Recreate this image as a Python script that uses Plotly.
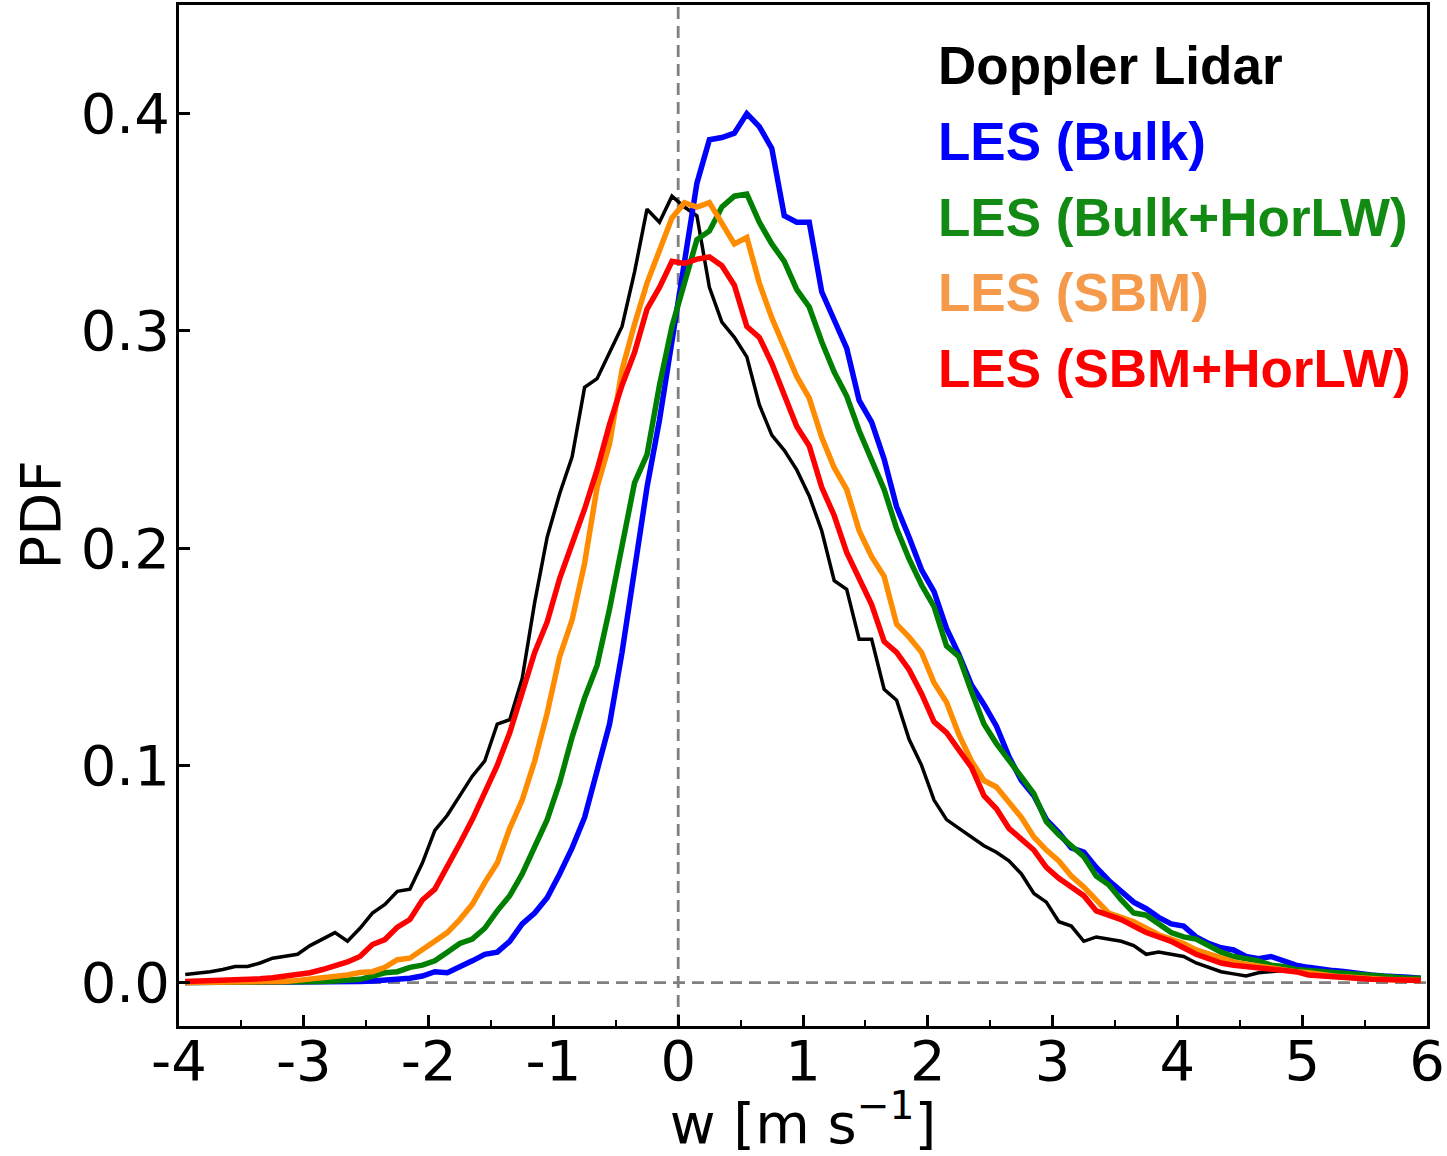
import numpy as np
import plotly.graph_objects as go

# bin centres of the w histogram (m s-1)
w_bins = np.round(np.arange(-3.95, 6.0, 0.1), 2)

pdf_lidar = [
    0.0037, 0.0042, 0.005, 0.006, 0.0074, 0.0074, 0.009, 0.0112, 0.012, 0.013,
    0.017, 0.020, 0.023, 0.019, 0.025, 0.032, 0.036, 0.042, 0.043, 0.055,
    0.070, 0.077, 0.086, 0.095, 0.102, 0.119, 0.121, 0.140, 0.175, 0.205,
    0.225, 0.242, 0.274, 0.278, 0.290, 0.302, 0.327, 0.356, 0.350, 0.362,
    0.357, 0.353, 0.320, 0.304, 0.297, 0.288, 0.266, 0.252, 0.245, 0.236,
    0.224, 0.208, 0.185, 0.181, 0.158, 0.158, 0.135, 0.130, 0.112, 0.100,
    0.084, 0.075, 0.071, 0.067, 0.063, 0.060, 0.056, 0.050, 0.041, 0.037,
    0.028, 0.026, 0.019, 0.021, 0.020, 0.019, 0.017, 0.013, 0.014, 0.013,
    0.012, 0.009, 0.007, 0.005, 0.004, 0.003, 0.0045, 0.005, 0.0055, 0.005,
    0.0045, 0.004, 0.0035, 0.003, 0.0025, 0.002, 0.0015, 0.0012, 0.001, 0.0008,
]

pdf_bulk = [
    0, 0, 0, 0, 0, 0, 0, 0, 0, 0,
    0.0001, 0.0002, 0.0003, 0.0004, 0.0005, 0.0007, 0.001, 0.0012, 0.002, 0.003,
    0.005, 0.0045, 0.007, 0.010, 0.013, 0.014, 0.019, 0.027, 0.032, 0.039,
    0.050, 0.062, 0.076, 0.097, 0.119, 0.152, 0.189, 0.228, 0.259, 0.295,
    0.331, 0.368, 0.388, 0.389, 0.391, 0.400, 0.394, 0.384, 0.353, 0.350,
    0.350, 0.318, 0.305, 0.292, 0.268, 0.258, 0.241, 0.219, 0.205, 0.190,
    0.180, 0.163, 0.151, 0.137, 0.128, 0.118, 0.104, 0.093, 0.086, 0.075,
    0.069, 0.062, 0.060, 0.053, 0.047, 0.042, 0.037, 0.034, 0.030, 0.027,
    0.026, 0.021, 0.018, 0.016, 0.015, 0.012, 0.011, 0.012, 0.010, 0.008,
    0.007, 0.006, 0.0055, 0.005, 0.004, 0.0035, 0.003, 0.003, 0.0025, 0.002,
]

pdf_bulk_horlw = [
    0, 0, 0, 0, 0, 0, 0, 0.0001, 0.0002, 0.0003,
    0.0004, 0.0005, 0.0007, 0.001, 0.0015, 0.003, 0.0045, 0.005, 0.007, 0.008,
    0.010, 0.014, 0.018, 0.020, 0.025, 0.033, 0.040, 0.050, 0.063, 0.075,
    0.092, 0.113, 0.131, 0.146, 0.172, 0.202, 0.230, 0.243, 0.275, 0.302,
    0.322, 0.342, 0.346, 0.357, 0.362, 0.363, 0.350, 0.340, 0.332, 0.319,
    0.311, 0.295, 0.281, 0.270, 0.254, 0.240, 0.227, 0.209, 0.195, 0.183,
    0.173, 0.155, 0.150, 0.134, 0.119, 0.110, 0.102, 0.095, 0.087, 0.074,
    0.068, 0.063, 0.058, 0.049, 0.045, 0.038, 0.032, 0.031, 0.027, 0.023,
    0.021, 0.020, 0.017, 0.014, 0.012, 0.011, 0.010, 0.008, 0.0074, 0.006,
    0.0055, 0.005, 0.0046, 0.004, 0.0035, 0.003, 0.003, 0.0025, 0.002, 0.002,
]

pdf_sbm = [
    0, 0, 0, 0, 0.0001, 0.0002, 0.0003, 0.0004, 0.0005, 0.001,
    0.0015, 0.002, 0.0025, 0.0035, 0.0046, 0.005, 0.007, 0.0105, 0.0112, 0.015,
    0.019, 0.023, 0.029, 0.036, 0.046, 0.055, 0.071, 0.084, 0.102, 0.124,
    0.150, 0.167, 0.193, 0.228, 0.248, 0.282, 0.303, 0.322, 0.337, 0.352,
    0.359, 0.357, 0.359, 0.350, 0.340, 0.343, 0.322, 0.306, 0.293, 0.279,
    0.269, 0.251, 0.237, 0.227, 0.208, 0.196, 0.187, 0.165, 0.159, 0.152,
    0.138, 0.129, 0.114, 0.102, 0.093, 0.090, 0.083, 0.076, 0.067, 0.061,
    0.056, 0.049, 0.044, 0.038, 0.032, 0.030, 0.028, 0.025, 0.022, 0.020,
    0.018, 0.015, 0.013, 0.011, 0.0095, 0.0085, 0.0075, 0.0065, 0.006, 0.005,
    0.0045, 0.0035, 0.003, 0.0025, 0.002, 0.0018, 0.0015, 0.0013, 0.001, 0.001,
]

pdf_sbm_horlw = [
    0.0005, 0.0006, 0.0008, 0.001, 0.0012, 0.0014, 0.0017, 0.0022, 0.0028, 0.0035,
    0.0045, 0.006, 0.0075, 0.0095, 0.012, 0.0175, 0.0198, 0.0255, 0.029, 0.038,
    0.043, 0.053, 0.064, 0.075, 0.087, 0.100, 0.115, 0.134, 0.152, 0.166,
    0.186, 0.202, 0.218, 0.236, 0.257, 0.275, 0.290, 0.310, 0.320, 0.332,
    0.331, 0.333, 0.334, 0.330, 0.321, 0.302, 0.297, 0.285, 0.271, 0.256,
    0.247, 0.228, 0.215, 0.198, 0.186, 0.174, 0.157, 0.152, 0.144, 0.133,
    0.120, 0.115, 0.107, 0.099, 0.086, 0.080, 0.071, 0.066, 0.061, 0.053,
    0.048, 0.044, 0.040, 0.033, 0.031, 0.029, 0.026, 0.023, 0.021, 0.019,
    0.016, 0.013, 0.011, 0.009, 0.008, 0.0075, 0.007, 0.0065, 0.006, 0.005,
    0.0035, 0.003, 0.0025, 0.002, 0.0018, 0.0015, 0.0014, 0.0012, 0.001, 0.001,
]

labels = ["Doppler Lidar", "LES (Bulk)", "LES (Bulk+HorLW)", "LES (SBM)", "LES (SBM+HorLW)"]
x_ticks = [-4, -3, -2, -1, 0, 1, 2, 3, 4, 5, 6]
y_ticks = [0.0, 0.1, 0.2, 0.3, 0.4]

series = [pdf_lidar, pdf_bulk, pdf_bulk_horlw, pdf_sbm, pdf_sbm_horlw]
line_colors = ["black", "#0000ff", "#008000", "#ff8c00", "#ff0000"]
text_colors = ["black", "#0000ff", "#138a13", "#f5994a", "#ff0000"]
widths = [3.5, 5.5, 5.5, 5.5, 5.5]

fig = go.Figure()

# dashed reference lines at w=0 and PDF=0
ref_line = dict(color="grey", width=2.8, dash="12px,7px")
fig.add_trace(go.Scatter(x=[-4, 6], y=[0, 0], mode="lines", line=ref_line, hoverinfo="skip"))
fig.add_trace(go.Scatter(x=[0, 0], y=[-0.02, 0.45], mode="lines", line=ref_line, hoverinfo="skip"))

for i in range(len(series)):
    fig.add_trace(go.Scatter(x=w_bins, y=series[i], mode="lines", name=labels[i],
                             line=dict(color=line_colors[i], width=widths[i])))

W, H = 1447, 1156
l, r, t, b = 179, 20, 5, 130
plot_w = W - l - r
plot_h = H - t - b

# text legend in the top right corner
for k, lab in enumerate(labels):
    cy = 66 + k * 75.5
    fig.add_annotation(x=(936 - l) / plot_w, y=(H - b - cy) / plot_h,
                       xref="paper", yref="paper", xanchor="left", yanchor="middle",
                       text="<b>" + lab + "</b>", showarrow=False,
                       font=dict(family="Liberation Sans, Arial", size=53, color=text_colors[k]))

axis_font = dict(family="DejaVu Sans", size=56, color="black")

# y axis title placed by hand
fig.add_annotation(x=(40 - l) / plot_w, y=0.5, xref="paper", yref="paper",
                   xanchor="center", yanchor="middle", textangle=-90,
                   text="PDF", showarrow=False, font=axis_font)

fig.update_xaxes(range=[-4, 6], tickvals=x_ticks, ticktext=[str(v) for v in x_ticks],
                 ticks="inside", ticklen=11, tickwidth=2.5, tickcolor="black",
                 minor=dict(ticks="inside", ticklen=6, tickwidth=2, tickcolor="black", dtick=0.5, tick0=0),
                 showline=True, linewidth=3, linecolor="black", mirror=True,
                 showgrid=False, zeroline=False, tickfont=axis_font, ticklabelstandoff=-16,
                 automargin=False,
                 title=dict(text="w [m s<sup>−1</sup>]", font=axis_font))
fig.update_yaxes(range=[-0.02, 0.45], tickvals=y_ticks, ticktext=["%.1f" % v for v in y_ticks],
                 ticks="inside", ticklen=11, tickwidth=2.5, tickcolor="black",
                 showline=True, linewidth=3, linecolor="black", mirror=True,
                 showgrid=False, zeroline=False, tickfont=axis_font, ticklabelstandoff=-5,
                 automargin=False)

fig.update_layout(width=W, height=H, showlegend=False,
                  margin=dict(l=l, r=r, t=t, b=b),
                  plot_bgcolor="white", paper_bgcolor="white")

# the page body has a default 8px margin; drop it so the figure fills the window
fig.write_html("out.html", config={"displayModeBar": False},
               post_script="document.body.style.margin='0';")
